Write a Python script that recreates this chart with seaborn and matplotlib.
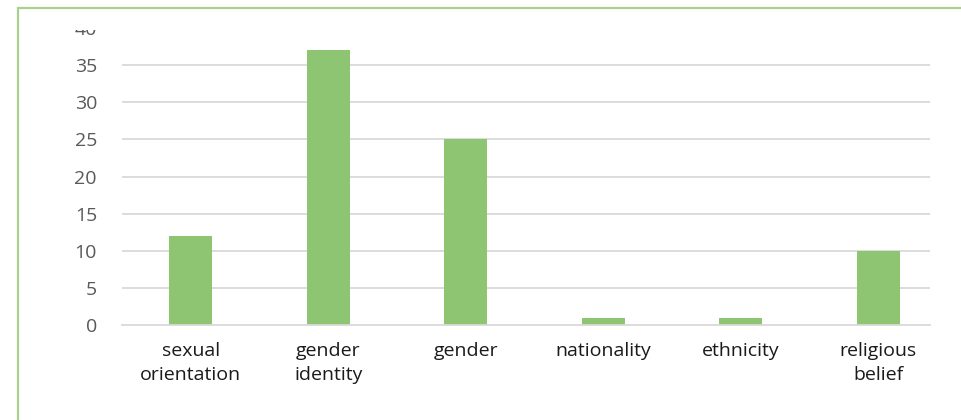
import matplotlib
matplotlib.use("Agg")
import matplotlib.pyplot as plt
import seaborn as sns
import pandas as pd
from matplotlib.patches import Rectangle

categories = ["sexual\norientation", "gender\nidentity", "gender", "nationality", "ethnicity", "religious\nbelief"]
values = [12, 37, 25, 1, 1, 10]
yticks = [0, 5, 10, 15, 20, 25, 30, 35, 40]

sns.set_theme(style="white")
plt.rcParams['font.family'] = ['Open Sans', 'DejaVu Sans']

W, H = 962, 420
fig = plt.figure(figsize=(W / 100, H / 100), dpi=100)
ax = fig.add_axes([122 / W, 1 - 325 / H, (930 - 122) / W, (325 - 28) / H])

df = pd.DataFrame({"cat": categories, "val": values})
sns.barplot(data=df, x="cat", y="val", color="#8DC572", saturation=1, width=0.313,
            linewidth=0, edgecolor="none", ax=ax, zorder=3)

ax.set_ylim(0, 40)
ax.set_xlim(-0.5, 5.376)
ax.set_yticks(yticks)
ax.set_xlabel("")
ax.set_ylabel("")
for s in ["top", "left", "right"]:
    ax.spines[s].set_visible(False)
ax.spines["bottom"].set_color("#D9D9D9")
ax.spines["bottom"].set_linewidth(1.3)
ax.spines["bottom"].set_zorder(4)
ax.yaxis.grid(True, color="#D9D9D9", linewidth=1.3, zorder=0)
ax.set_axisbelow(True)
gl = ax.yaxis.get_gridlines()
gl[-1].set_visible(False)
gl[0].set_visible(False)

ax.tick_params(axis="y", length=0, pad=18, labelsize=14, labelcolor="#595959")
ax.tick_params(axis="x", length=0, pad=12, labelsize=14, labelcolor="#1a1a1a")
for lbl in ax.get_xticklabels():
    lbl.set_linespacing(1.42)

# clip the top "40" label like the reference
clip = Rectangle((0, 0), W, H - 30, transform=None, visible=False)
fig.add_artist(clip)
for lbl in ax.get_yticklabels():
    lbl.set_clip_path(clip)

# outer chart border (light green)
border = Rectangle((18 / W, -0.2), 1.2, 1.2 - 8 / H, transform=fig.transFigure,
                   fill=False, edgecolor="#A9D18E", linewidth=1.6, clip_on=False)
fig.add_artist(border)

fig.savefig("out.png", dpi=100)
